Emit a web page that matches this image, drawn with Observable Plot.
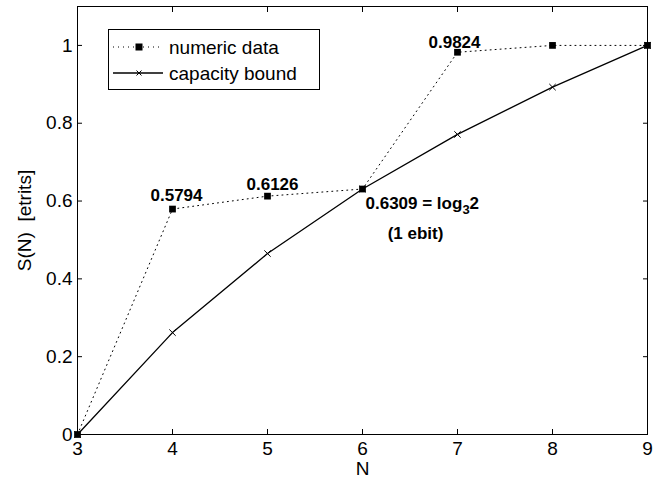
<!DOCTYPE html>
<html><head><meta charset="utf-8">
<script src="https://cdn.jsdelivr.net/npm/d3@7"></script>
<script src="https://cdn.jsdelivr.net/npm/@observablehq/plot@0.6"></script>
<style>
body{margin:0;background:#fff;}
#wrap{position:relative;width:665px;height:484px;font-family:"Liberation Sans",Arial,Helvetica,sans-serif;}
#legend{position:absolute;left:108px;top:29px;width:210px;height:59px;border:1px solid #000;background:#fff;}
#legend svg{display:block;}
</style></head><body><div id="wrap"><div id="legend"></div></div>
<script>
// ---- data ----
const N = [3, 4, 5, 6, 7, 8, 9];
const numericData = [0, 0.5794, 0.6126, 0.6309, 0.9824, 1.0, 1.0];
const capacityBound = [0, 0.2619, 0.4650, 0.6309, 0.7712, 0.8928, 1.0];
const xTicks = [3, 4, 5, 6, 7, 8, 9];
const yTicks = [0, 0.2, 0.4, 0.6, 0.8, 1];
const seriesNames = ["numeric data", "capacity bound"];
const annoN = [4, 5, 7, 6, 6];
const annoV = [0.5794, 0.6126, 0.9824, 0.6309, 0.6309];
const annoText = ["0.5794", "0.6126", "0.9824", "0.6309 = log\u20832", "(1 ebit)"];

const numRows = N.map((n, i) => ({n, v: numericData[i]}));
const capRows = N.map((n, i) => ({n, v: capacityBound[i]}));
const anno = annoN.map((n, i) => ({n, v: annoV[i], text: annoText[i]}));

const FONT = '"Liberation Sans", Arial, Helvetica, sans-serif';
const bold = {fontWeight: "bold", fontSize: 17, fill: "#000"};

const chart = Plot.plot({
  width: 665, height: 484,
  marginLeft: 77, marginRight: 18, marginTop: 6, marginBottom: 50,
  style: {fontFamily: FONT, fontSize: "19px", color: "#000", background: "#fff", overflow: "visible"},
  x: {domain: [3, 9]},
  y: {domain: [0, 1.1]},
  marks: [
    Plot.frame({stroke: "#000", strokeWidth: 1}),
    Plot.axisX({anchor: "bottom", ticks: xTicks, tickSize: -5, tickPadding: 12, fontSize: 19,
      tickFormat: d => String(d), label: "N", labelAnchor: "center", labelOffset: 40, labelArrow: "none"}),
    Plot.axisX({anchor: "top", ticks: xTicks, tickSize: -5, tickFormat: () => "", label: null}),
    Plot.axisY({anchor: "left", ticks: yTicks, tickSize: -5, tickPadding: 10, fontSize: 19,
      tickFormat: d3.format("~g"), label: "S(N)  [etrits]", labelAnchor: "center", labelOffset: 60, labelArrow: "none"}),
    Plot.axisY({anchor: "right", ticks: yTicks, tickSize: -5, tickFormat: () => "", label: null}),
    Plot.line(numRows, {x: "n", y: "v", stroke: "#000", strokeWidth: 1, strokeDasharray: "1,4"}),
    Plot.line(capRows, {x: "n", y: "v", stroke: "#000", strokeWidth: 1.3}),
    Plot.dot(capRows, {x: "n", y: "v", symbol: "times", r: 3, stroke: "#000", strokeWidth: 1}),
    Plot.dot(numRows, {x: "n", y: "v", symbol: "square", r: 3.8, fill: "#000", stroke: "none"}),
    Plot.text(anno.slice(0, 1), {x: "n", y: "v", text: "text", dx: 4, dy: -14, ...bold}),
    Plot.text(anno.slice(1, 2), {x: "n", y: "v", text: "text", dx: 5, dy: -12, ...bold}),
    Plot.text(anno.slice(2, 3), {x: "n", y: "v", text: "text", dx: -3, dy: -10, ...bold}),
    Plot.text(anno.slice(3, 4), {x: "n", y: "v", text: "text", dx: 3, dy: 15, textAnchor: "start", ...bold}),
    Plot.text(anno.slice(4, 5), {x: "n", y: "v", text: "text", dx: 53, dy: 45, ...bold})
  ]
});

// subscript for log_3 and preserved spacing in y label
d3.select(chart).selectAll("text").each(function () {
  const s = this.textContent;
  if (s.includes("\u2083")) {
    const [a, b] = s.split("\u2083");
    const t = d3.select(this);
    t.text("");
    t.append("tspan").text(a.replace("log", "log"));
    t.append("tspan").attr("dy", 5).attr("font-size", 13).text("3");
    t.append("tspan").attr("dy", -5).text(b);
  }
  if (s.includes("etrits")) this.style.whiteSpace = "pre";
});

document.getElementById("wrap").prepend(chart);

// legend
const lg = d3.select("#legend").append("svg").attr("width", 210).attr("height", 59)
  .style("font-family", FONT).style("font-size", "19px");
const rowsY = [17, 43];
lg.append("line").attr("x1", 4).attr("x2", 54).attr("y1", rowsY[0]).attr("y2", rowsY[0])
  .attr("stroke", "#000").attr("stroke-width", 1).attr("stroke-dasharray", "1,4");
lg.append("rect").attr("x", 30 - 3.5).attr("y", rowsY[0] - 3.5).attr("width", 7).attr("height", 7).attr("fill", "#000");
lg.append("line").attr("x1", 4).attr("x2", 54).attr("y1", rowsY[1]).attr("y2", rowsY[1])
  .attr("stroke", "#000").attr("stroke-width", 1.3);
lg.append("path").attr("d", `M${30-2.5},${rowsY[1]-2.5}L${30+2.5},${rowsY[1]+2.5}M${30-2.5},${rowsY[1]+2.5}L${30+2.5},${rowsY[1]-2.5}`)
  .attr("stroke", "#000").attr("stroke-width", 1);
seriesNames.forEach((name, i) => {
  lg.append("text").attr("x", 60).attr("y", rowsY[i] + 7).attr("fill", "#000").text(name);
});
</script></body></html>
